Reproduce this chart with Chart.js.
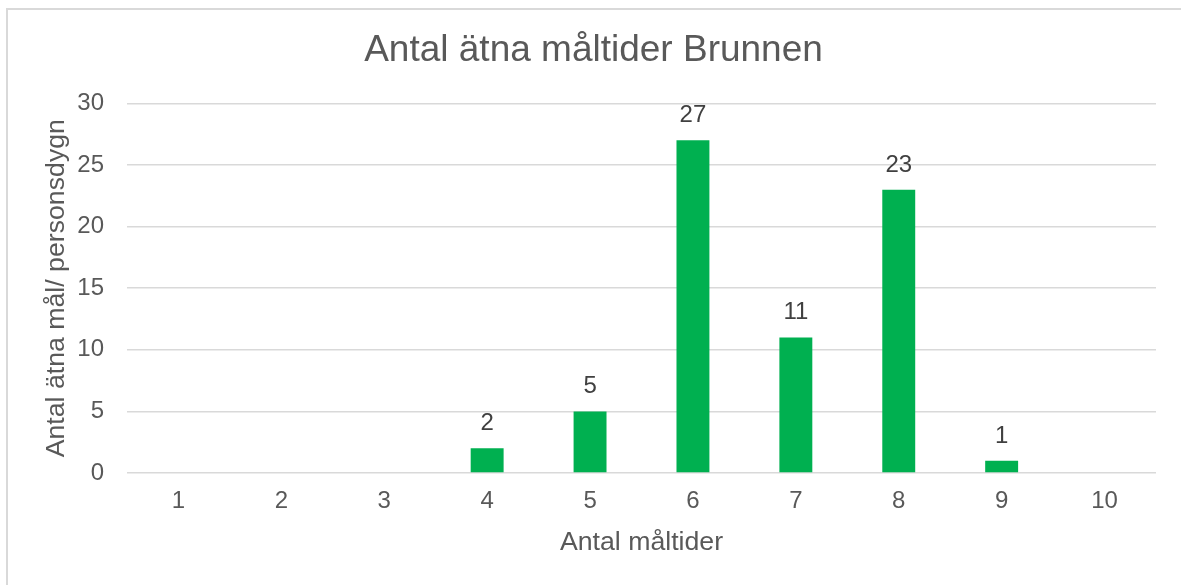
<!DOCTYPE html>
<html>
<head>
<meta charset="utf-8">
<script src="https://cdn.jsdelivr.net/npm/chart.js@4.4.1/dist/chart.umd.min.js"></script>
<style>
  body { margin: 0; background: #fff; }
  #frame {
    position: absolute; left: 6px; top: 8px; width: 1200px; height: 600px;
    border-top: 2px solid #d9d9d9; border-left: 2px solid #d9d9d9;
  }
  #c { position: absolute; left: 0; top: 0; }
</style>
</head>
<body>
<div id="frame"></div>
<canvas id="c" width="1181" height="585"></canvas>
<script>
// data
const categories = ["1", "2", "3", "4", "5", "6", "7", "8", "9", "10"];
const meals = [0, 0, 0, 2, 5, 27, 11, 23, 1, 0];
const yTicks = [0, 5, 10, 15, 20, 25, 30];

const grey = "#595959";
const font = "'Liberation Sans', Arial, sans-serif";

// labels above bars
const barLabels = {
  id: "barLabels",
  afterDatasetsDraw(chart) {
    const ctx = chart.ctx;
    const meta = chart.getDatasetMeta(0);
    ctx.save();
    ctx.font = "24px " + font;
    ctx.fillStyle = "#404040";
    ctx.textAlign = "center";
    ctx.textBaseline = "alphabetic";
    meta.data.forEach(function (bar, i) {
      const v = meals[i];
      if (!v) return;
      ctx.fillText(String(v), bar.x, bar.y - 18);
    });
    ctx.restore();
  },
};

new Chart(document.getElementById("c"), {
  type: "bar",
  data: {
    labels: categories,
    datasets: [
      {
        data: meals,
        backgroundColor: "#00b050",
        borderWidth: 0,
        barPercentage: 0.32,
        categoryPercentage: 1,
      },
    ],
  },
  options: {
    responsive: false,
    animation: false,
    layout: { padding: { left: 31, right: 25, top: 0, bottom: 0 } },
    plugins: {
      legend: { display: false },
      tooltip: { enabled: false },
      title: {
        display: true,
        text: "Antal ätna måltider Brunnen",
        color: grey,
        font: { family: font, size: 37, weight: "normal" },
        padding: { top: 29, bottom: 30 },
      },
    },
    scales: {
      x: {
        grid: { display: false, drawTicks: false },
        border: { display: false },
        ticks: { color: grey, font: { family: font, size: 24 }, padding: 14 },
        title: {
          display: true,
          text: "Antal måltider",
          color: grey,
          font: { family: font, size: 26.7 },
          padding: { top: 0, bottom: 26 },
        },
        afterFit(scale) { scale.height = 112; },
      },
      y: {
        min: 0,
        max: 30,
        afterBuildTicks(scale) {
          scale.ticks = yTicks.map(function (v) { return { value: v }; });
        },
        grid: { color: "#d9d9d9", lineWidth: 1.5, drawTicks: false },
        border: { display: false },
        ticks: { color: grey, font: { family: font, size: 24 }, padding: 23 },
        title: {
          display: true,
          text: "Antal ätna mål/ personsdygn",
          color: grey,
          font: { family: font, size: 26.7 },
          padding: { top: 10, bottom: 0 },
        },
        afterFit(scale) { scale.width = 96; },
      },
    },
  },
  plugins: [barLabels],
});
</script>
</body>
</html>
